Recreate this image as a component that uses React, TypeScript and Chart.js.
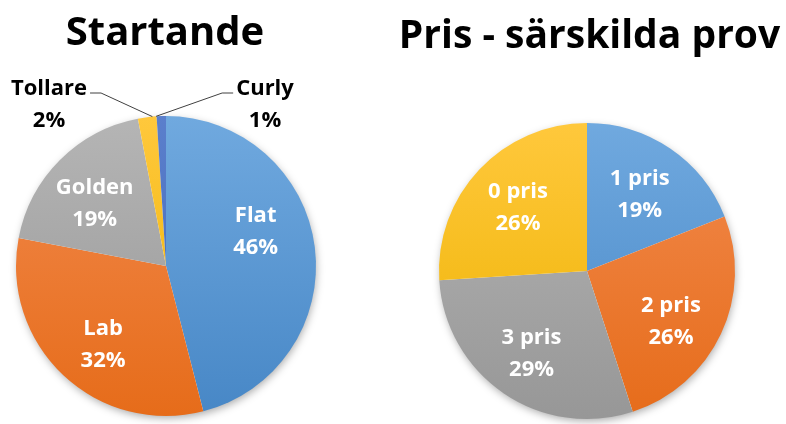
import React, { useEffect, useRef } from "react";
import { Chart, registerables } from "chart.js";

Chart.register(...registerables);

// ---- Data ----
const startLabels = ["Flat", "Lab", "Golden", "Tollare", "Curly"];
const startValues = [46, 32, 19, 2, 1];
const startTitle = "Startande";

const prisLabels = ["1 pris", "2 pris", "3 pris", "0 pris"];
const prisValues = [19, 26, 29, 26];
const prisTitle = "Pris - särskilda prov";

// ---- Styles ----
const startTop = ["#70A9DF", "#F28A4E", "#B5B5B5", "#FFC83C", "#5B7FCC"];
const startBottom = ["#4787C6", "#E66C1A", "#979797", "#EDB200", "#3F67B8"];
const prisTop = ["#70A9DF", "#F28A4E", "#B5B5B5", "#FFC83C"];
const prisBottom = ["#4787C6", "#E66C1A", "#979797", "#EDB200"];

// label placement tweaks (degrees of angular shift, outside flag, outside offsets in radii)
const startShift = [-16, -3, -2, 0, 0];
const startOutside = [false, false, false, true, true];
const startOutsideOffset = [[0, 0], [0, 0], [0, 0], [-0.78, -1.1], [0.66, -1.1]];
const prisShift = [-1, 4, 1, 1];
const prisOutside = [false, false, false, false];
const prisOutsideOffset = [[0, 0], [0, 0], [0, 0], [0, 0]];

const FONT = "'Open Sans', Lato, sans-serif";

const titlePlugin = {
  id: "pieTitle",
  afterDraw(chart: any, _args: any, opts: any) {
    const ctx = chart.ctx;
    ctx.save();
    ctx.font = `bold ${opts.size}px ${FONT}`;
    ctx.fillStyle = "#000000";
    ctx.textAlign = "center";
    ctx.textBaseline = "alphabetic";
    ctx.fillText(opts.text, chart.width / 2 + (opts.dx || 0), opts.baseline);
    ctx.restore();
  },
};

const shadowPlugin = {
  id: "pieShadow",
  beforeDatasetsDraw(chart: any) {
    const meta = chart.getDatasetMeta(0);
    const arc = meta.data[0];
    if (!arc) return;
    const { x, y, outerRadius } = arc.getProps(["x", "y", "outerRadius"], true);
    const ctx = chart.ctx;
    ctx.save();
    ctx.shadowColor = "rgba(0,0,0,0.35)";
    ctx.shadowBlur = 9;
    ctx.shadowOffsetX = 1;
    ctx.shadowOffsetY = 3;
    ctx.fillStyle = "#ffffff";
    ctx.beginPath();
    ctx.arc(x, y, outerRadius - 1, 0, Math.PI * 2);
    ctx.fill();
    ctx.restore();
  },
};

const labelPlugin = {
  id: "sliceLabels",
  afterDatasetsDraw(chart: any, _args: any, opts: any) {
    const ctx = chart.ctx;
    const meta = chart.getDatasetMeta(0);
    const ds = chart.data.datasets[0];
    const total = ds.data.reduce((a: number, b: number) => a + b, 0);
    const fontSize = opts.fontSize || 22;
    const lineGap = opts.lineGap || 32;
    const dy = opts.dy || 0;
    ctx.save();
    ctx.font = `bold ${fontSize}px ${FONT}`;
    ctx.textAlign = "center";
    ctx.textBaseline = "middle";
    meta.data.forEach((arc: any, i: number) => {
      const { x, y, startAngle, endAngle, outerRadius } = arc.getProps(
        ["x", "y", "startAngle", "endAngle", "outerRadius"],
        true
      );
      const name = chart.data.labels[i];
      const pct = Math.round((ds.data[i] / total) * 100) + "%";
      const mid = (startAngle + endAngle) / 2;
      if (opts.outside[i]) {
        const [ox, oy] = opts.outsideOffset[i];
        const lx = x + ox * outerRadius;
        const ly = y + oy * outerRadius;
        ctx.fillStyle = "#000000";
        ctx.fillText(name, lx, ly - lineGap / 2 + dy);
        ctx.fillText(pct, lx, ly + lineGap / 2 + dy);
        const w = ctx.measureText(name).width;
        const side = ox < 0 ? 1 : -1;
        const edgeX = lx + (side * w) / 2 + side * 3;
        const lineY = ly - lineGap / 2 + 8;
        const elbowX = edgeX + side * 11;
        const ax = x + Math.cos(mid + (side * 2 * Math.PI) / 180) * outerRadius;
        const ay = y + Math.sin(mid + (side * 2 * Math.PI) / 180) * outerRadius;
        ctx.strokeStyle = "#404040";
        ctx.lineWidth = 1;
        ctx.beginPath();
        ctx.moveTo(edgeX, lineY);
        ctx.lineTo(elbowX, lineY);
        ctx.lineTo(ax, ay);
        ctx.stroke();
      } else {
        const a = mid + (opts.shift[i] * Math.PI) / 180;
        const r = outerRadius * opts.radius;
        const lx = x + Math.cos(a) * r;
        const ly = y + Math.sin(a) * r;
        ctx.fillStyle = "#ffffff";
        ctx.fillText(name, lx, ly - lineGap / 2 + dy);
        ctx.fillText(pct, lx, ly + lineGap / 2 + dy);
      }
    });
    ctx.restore();
  },
};

function makeGradient(tops: string[], bottoms: string[]) {
  return (c: any) => {
    const chart = c.chart;
    const area = chart.chartArea;
    const i = c.dataIndex ?? 0;
    if (!area) return tops[i];
    const g = chart.ctx.createLinearGradient(0, area.top, 0, area.bottom);
    g.addColorStop(0, tops[i]);
    g.addColorStop(1, bottoms[i]);
    return g;
  };
}

type PieProps = {
  labels: string[];
  values: number[];
  tops: string[];
  bottoms: string[];
  title: string;
  titleSize: number;
  titleBaseline: number;
  titleDx: number;
  padLeft: number;
  padRight: number;
  padTop: number;
  padBottom: number;
  width: number;
  height: number;
  left: number;
  shift: number[];
  outside: boolean[];
  outsideOffset: number[][];
  labelRadius: number;
};

function Pie(p: PieProps) {
  const ref = useRef<HTMLCanvasElement>(null);
  useEffect(() => {
    if (!ref.current) return;
    const chart = new Chart(ref.current, {
      type: "pie",
      data: {
        labels: p.labels,
        datasets: [
          {
            data: p.values,
            backgroundColor: makeGradient(p.tops, p.bottoms) as any,
            borderWidth: 0,
          },
        ],
      },
      options: {
        responsive: false,
        animation: false,
        devicePixelRatio: 1,
        layout: {
          padding: { left: p.padLeft, right: p.padRight, top: p.padTop, bottom: p.padBottom },
        },
        plugins: {
          legend: { display: false },
          tooltip: { enabled: false },
          title: { display: false },
          pieTitle: {
            text: p.title,
            size: p.titleSize,
            baseline: p.titleBaseline,
            dx: p.titleDx,
          },
          sliceLabels: {
            shift: p.shift,
            outside: p.outside,
            outsideOffset: p.outsideOffset,
            radius: p.labelRadius,
            fontSize: 22,
            lineGap: 32,
            dy: 4,
          },
        } as any,
      },
      plugins: [shadowPlugin, labelPlugin, titlePlugin],
    });
    return () => chart.destroy();
  }, []);
  return (
    <canvas
      ref={ref}
      width={p.width}
      height={p.height}
      style={{ position: "absolute", left: p.left, top: 0, width: p.width, height: p.height }}
    />
  );
}

export default function App() {
  return (
    <div
      style={{
        position: "absolute",
        left: 0,
        top: 0,
        width: 786,
        height: 424,
        background: "#ffffff",
        overflow: "hidden",
      }}
    >
      <Pie
        labels={startLabels}
        values={startValues}
        tops={startTop}
        bottoms={startBottom}
        title={startTitle}
        titleSize={40}
        titleBaseline={45}
        titleDx={-1}
        padLeft={16}
        padRight={16}
        padTop={116}
        padBottom={8}
        width={332}
        height={424}
        left={0}
        shift={startShift}
        outside={startOutside}
        outsideOffset={startOutsideOffset}
        labelRadius={0.65}
      />
      <Pie
        labels={prisLabels}
        values={prisValues}
        tops={prisTop}
        bottoms={prisBottom}
        title={prisTitle}
        titleSize={39}
        titleBaseline={48}
        titleDx={0}
        padLeft={46}
        padRight={51}
        padTop={123}
        padBottom={5}
        width={393}
        height={424}
        left={393}
        shift={prisShift}
        outside={prisOutside}
        outsideOffset={prisOutsideOffset}
        labelRadius={0.65}
      />
    </div>
  );
}
